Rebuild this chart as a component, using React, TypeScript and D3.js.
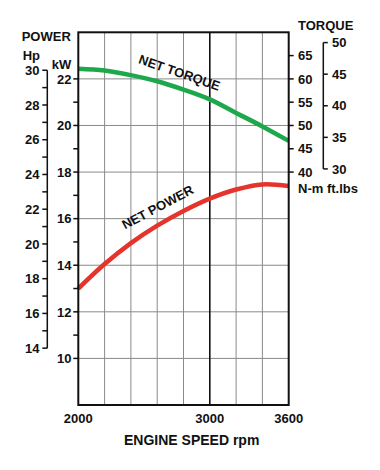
import React from "react";
import * as d3 from "d3";

const rpm = [2000, 2200, 2400, 2600, 2800, 3000, 3200, 3400, 3600];
const netPowerKw = [13.0, 14.05, 14.95, 15.7, 16.33, 16.86, 17.25, 17.47, 17.4];
const netTorqueNm = [62.2, 61.8, 60.8, 59.5, 57.7, 55.6, 52.7, 49.8, 46.7];

const rpmTicks = [2000, 3000, 3600];
const rpmGrid = [2200, 2400, 2600, 2800, 3000, 3200, 3400];
const kwLabels = [10, 12, 14, 16, 18, 20, 22];
const kwMinor = [11, 13, 15, 17, 19, 21];
const hpLabels = [14, 16, 18, 20, 22, 24, 26, 28, 30];
const hpMinor = [15, 17, 19, 21, 23, 25, 27, 29];
const nmLabels = [40, 45, 50, 55, 60, 65];
const ftlbLabels = [30, 35, 40, 45, 50];

const KW_PER_HP = 0.7457;
const NM_PER_FTLB = 1.3558;

const FONT = "'Liberation Sans', Arial, Helvetica, sans-serif";

export default function App() {
  const left = 78.3, right = 288.7, top = 32.3, bottom = 405;
  const x = d3.scaleLinear().domain([2000, 3600]).range([left, right]);
  const yKw = d3.scaleLinear().domain([8, 24]).range([bottom, top]);
  const yNm = d3.scaleLinear().domain([-10, 70]).range([bottom, top]);
  const yHp = d3.scaleLinear().domain([8 / KW_PER_HP, 24 / KW_PER_HP]).range([bottom, top]);
  const yFt = d3.scaleLinear().domain([-10 / NM_PER_FTLB, 70 / NM_PER_FTLB]).range([bottom, top]);

  const powerLine = d3
    .line<number>()
    .x((_, i) => x(rpm[i]))
    .y((d) => yKw(d))
    .curve(d3.curveCatmullRom.alpha(0.5));
  const torqueLine = d3
    .line<number>()
    .x((_, i) => x(rpm[i]))
    .y((d) => yNm(d))
    .curve(d3.curveCatmullRom.alpha(0.5));

  const hpX = 47.3;
  const ftX = 323.3;
  const textStyle = { fontFamily: FONT, fontWeight: 700, fontSize: 13, fill: "#111" } as const;

  return (
    <svg
      width={380}
      height={470}
      style={{ position: "absolute", left: 0, top: 0, background: "#fff" }}
    >
      {/* gridlines */}
      {kwLabels.map((v) => (
        <line key={"hg" + v} x1={left} x2={right} y1={yKw(v)} y2={yKw(v)} stroke="#8a8a8a" strokeWidth={1} />
      ))}
      {rpmGrid.map((v) => (
        <line
          key={"vg" + v}
          x1={x(v)}
          x2={x(v)}
          y1={top}
          y2={bottom}
          stroke={v === 3000 ? "#111" : "#8a8a8a"}
          strokeWidth={v === 3000 ? 1.6 : 1}
        />
      ))}

      {/* curves */}
      <path d={torqueLine(netTorqueNm) || ""} fill="none" stroke="#1ea84c" strokeWidth={4.5} />
      <path d={powerLine(netPowerKw) || ""} fill="none" stroke="#e5342b" strokeWidth={4.5} />

      {/* frame */}
      <rect x={left} y={top} width={right - left} height={bottom - top} fill="none" stroke="#111" strokeWidth={2} />

      {/* kW axis */}
      {kwLabels.concat(kwMinor).map((v) => (
        <line key={"kt" + v} x1={left - 5} x2={left} y1={yKw(v)} y2={yKw(v)} stroke="#111" strokeWidth={1.5} />
      ))}
      {kwLabels.map((v) => (
        <text key={"kl" + v} x={71.5} y={yKw(v)} dy="0.36em" textAnchor="end" style={textStyle}>
          {v}
        </text>
      ))}

      {/* Hp axis */}
      <line x1={hpX} x2={hpX} y1={yHp(30)} y2={yHp(14)} stroke="#111" strokeWidth={1.5} />
      {hpLabels.concat(hpMinor).map((v) => (
        <line key={"ht" + v} x1={hpX - 5} x2={hpX} y1={yHp(v)} y2={yHp(v)} stroke="#111" strokeWidth={1.5} />
      ))}
      {hpLabels.map((v) => (
        <text key={"hl" + v} x={39.5} y={yHp(v)} dy="0.36em" textAnchor="end" style={textStyle}>
          {v}
        </text>
      ))}

      {/* N-m axis */}
      {nmLabels.map((v) => (
        <line key={"nt" + v} x1={right} x2={right + 5} y1={yNm(v)} y2={yNm(v)} stroke="#111" strokeWidth={1.5} />
      ))}
      {nmLabels.map((v) => (
        <text key={"nl" + v} x={298} y={yNm(v)} dy="0.36em" textAnchor="start" style={textStyle}>
          {v}
        </text>
      ))}

      {/* ft.lbs axis */}
      <line x1={ftX} x2={ftX} y1={yFt(50)} y2={yFt(30)} stroke="#111" strokeWidth={1.5} />
      {ftlbLabels.map((v) => (
        <line key={"ft" + v} x1={ftX} x2={ftX + 4.5} y1={yFt(v)} y2={yFt(v)} stroke="#111" strokeWidth={1.5} />
      ))}
      {ftlbLabels.map((v) => (
        <text key={"fl" + v} x={332} y={yFt(v)} dy="0.36em" textAnchor="start" style={textStyle}>
          {v}
        </text>
      ))}

      {/* x axis labels */}
      {rpmTicks.map((v) => (
        <text key={"xl" + v} x={x(v)} y={423.3} textAnchor="middle" style={textStyle}>
          {v}
        </text>
      ))}
      <text x={191.7} y={445.3} textAnchor="middle" style={{ ...textStyle, fontSize: 14 }}>
        ENGINE SPEED rpm
      </text>

      {/* axis titles */}
      <text x={21.7} y={40.7} style={textStyle}>POWER</text>
      <text x={22.7} y={60} style={textStyle}>Hp</text>
      <text x={51.7} y={69.3} style={textStyle}>kW</text>
      <text x={298} y={30} style={textStyle}>TORQUE</text>
      <text x={298} y={193.3} style={textStyle}>N-m ft.lbs</text>

      {/* curve labels */}
      <text
        transform="translate(179.5,72.5) rotate(19)"
        textAnchor="middle"
        dy="0.36em"
        style={{ ...textStyle, fontSize: 13 }}
      >
        NET TORQUE
      </text>
      <text
        transform="translate(157.5,207) rotate(-28)"
        textAnchor="middle"
        dy="0.36em"
        style={{ ...textStyle, fontSize: 13 }}
      >
        NET POWER
      </text>
    </svg>
  );
}
